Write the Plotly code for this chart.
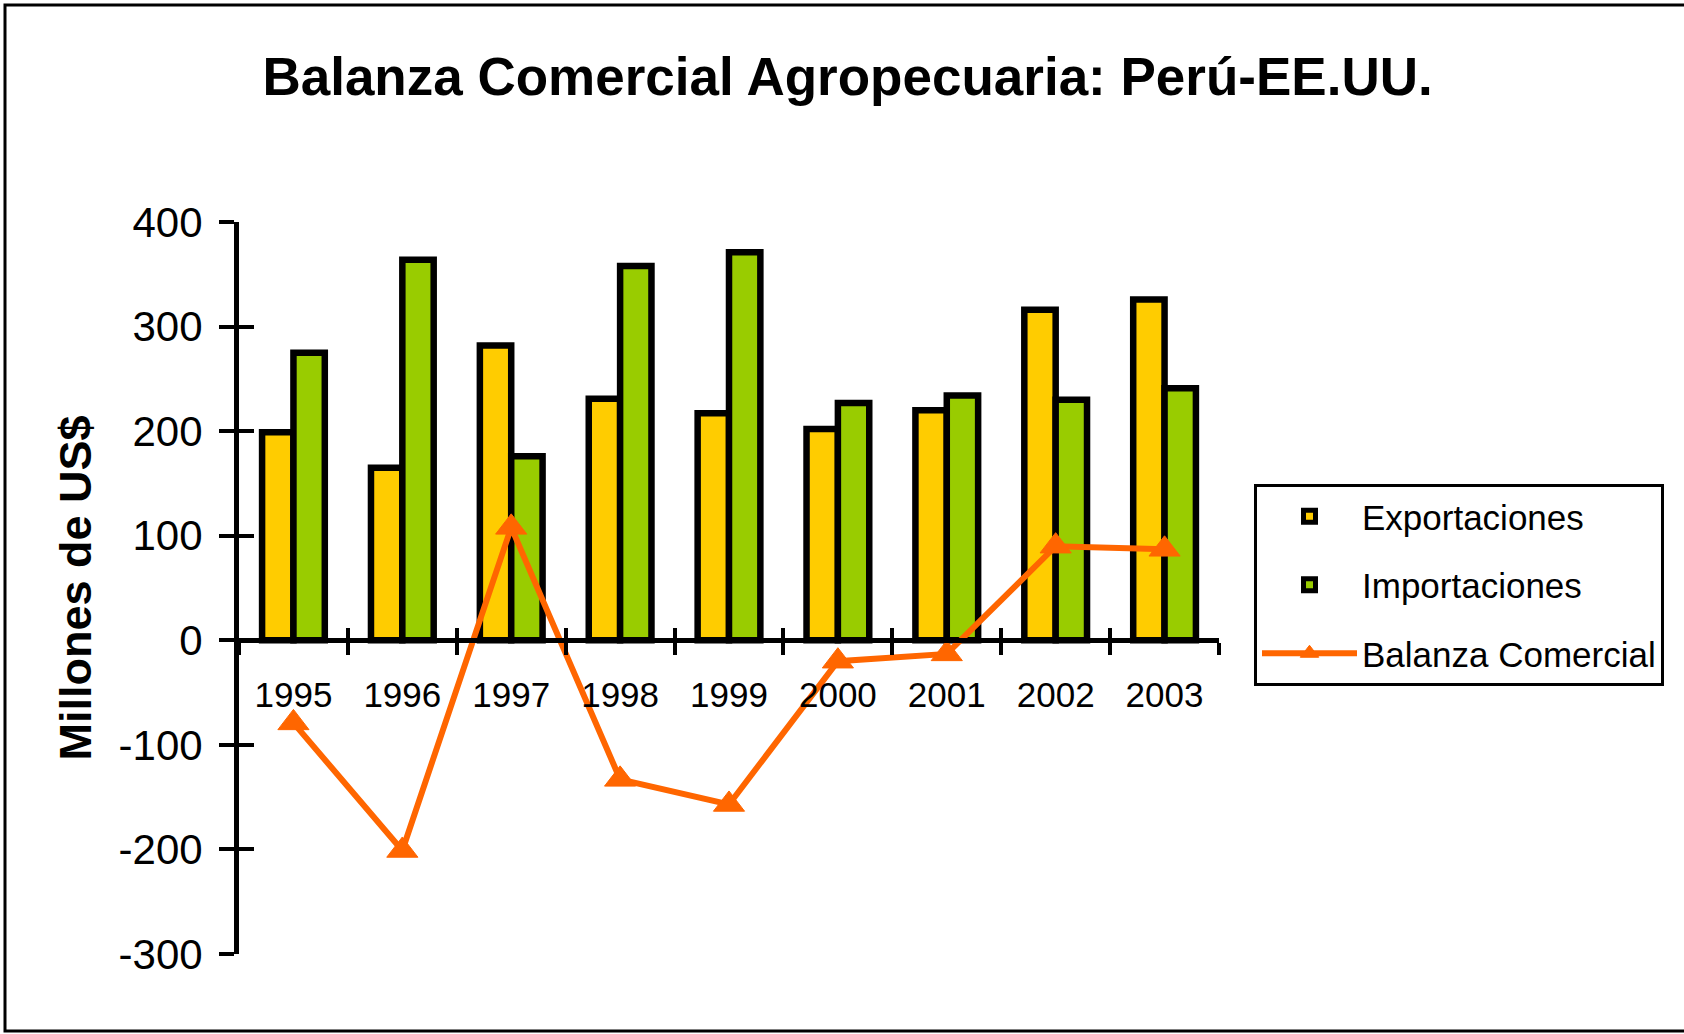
import plotly.graph_objects as go

years = ["1995", "1996", "1997", "1998", "1999", "2000", "2001", "2002", "2003"]
exportaciones = [199, 165, 282, 231, 217, 202, 220, 316, 326]
importaciones = [275, 364, 176, 358, 371, 227, 234, 230, 241]
balanza = [-79, -201, 108, -133, -157, -20, -13, 90, 87]

y_ticks = [-300, -200, -100, 0, 100, 200, 300, 400]
y_ticktext = [str(v) for v in y_ticks]
y_range = [-300, 400]

W, H = 1684, 1034
L, R, T, B = 239, 465, 222, 80
pw, ph = W - L - R, H - T - B

FONT = "Liberation Sans, Arial, sans-serif"
YELLOW = "#FFCC00"
GREEN = "#99CC00"
ORANGE = "#FF6600"

# x axis crosses the y axis at value 0
x_pos = (0 - y_range[0]) / (y_range[1] - y_range[0])

fig = go.Figure()
fig.add_trace(go.Bar(
    x=years, y=exportaciones, name="Exportaciones",
    marker=dict(color=YELLOW, line=dict(color="black", width=6.5)),
    legendgroup="a", xaxis="x", yaxis="y",
))
fig.add_trace(go.Bar(
    x=years, y=importaciones, name="Importaciones",
    marker=dict(color=GREEN, line=dict(color="black", width=6.5)),
    legendgroup="b", xaxis="x", yaxis="y",
))
fig.add_trace(go.Scatter(
    x=years, y=balanza, name="Balanza Comercial", mode="lines+markers",
    line=dict(color=ORANGE, width=6),
    marker=dict(symbol="triangle-up", size=27, color=ORANGE,
                line=dict(color=ORANGE, width=1)),
    legendgroup="c", xaxis="x2", yaxis="y2",
))

cat_common = dict(
    type="category", categoryorder="array", categoryarray=years,
    range=[-0.5, len(years) - 0.5], tickson="boundaries",
    showgrid=False, zeroline=False, anchor="free", position=x_pos,
    tickcolor="black", tickwidth=4, ticklen=12,
)
val_common = dict(
    range=y_range, tickvals=y_ticks, ticktext=y_ticktext,
    showgrid=False, zeroline=False,
    tickcolor="black", tickwidth=4, ticklen=15,
)

fig.update_layout(
    width=W, height=H,
    margin=dict(l=L, r=R, t=T, b=B, autoexpand=False),
    paper_bgcolor="white", plot_bgcolor="white",
    font=dict(family=FONT, color="black"),
    title=dict(
        text="<b>Balanza Comercial Agropecuaria: Perú-EE.UU.</b>",
        font=dict(family=FONT, size=53, color="black"),
        xref="container", yref="container", x=0.5033, y=1 - 76 / H,
        xanchor="center", yanchor="middle",
    ),
    barmode="group", bargap=0.424, bargroupgap=0,
    xaxis=dict(
        **cat_common, ticks="outside", showline=True, linecolor="black",
        linewidth=5, tickfont=dict(family=FONT, size=35, color="black"),
        ticklabelstandoff=22,
    ),
    xaxis2=dict(
        **cat_common, overlaying="x", ticks="inside", showline=False,
        showticklabels=False,
    ),
    yaxis=dict(
        **val_common, ticks="outside", showline=True, linecolor="black",
        linewidth=5, anchor="x",
        tickfont=dict(family=FONT, size=42, color="black"),
        ticklabelstandoff=8,
        title=dict(text="<b>Millones de US$</b>",
                   font=dict(family=FONT, size=45, color="black"),
                   standoff=14),
    ),
    yaxis2=dict(
        **val_common, ticks="inside", overlaying="y", anchor="x2",
        showline=False, showticklabels=False,
    ),
    legend=dict(
        xref="container", yref="container",
        x=1254 / W, y=1 - 484 / H, xanchor="left", yanchor="top",
        bordercolor="black", borderwidth=3, bgcolor="white",
        font=dict(family=FONT, size=35, color="black"),
        traceorder="grouped", tracegroupgap=20, itemwidth=95,
    ),
    showlegend=True,
)

# outer frame of the chart image (left, top and bottom edges visible)
fig.add_shape(
    type="rect", xref="paper", yref="paper",
    x0=(5 - L) / pw, x1=(W + 10 - L) / pw,
    y0=-(H - 3 - (T + ph)) / ph, y1=(T + ph - 5) / ph,
    line=dict(color="black", width=3), fillcolor="rgba(0,0,0,0)", layer="above",
)

fig.write_html("out.html", config={"displayModeBar": False},
               post_script="document.body.style.margin='0';")
